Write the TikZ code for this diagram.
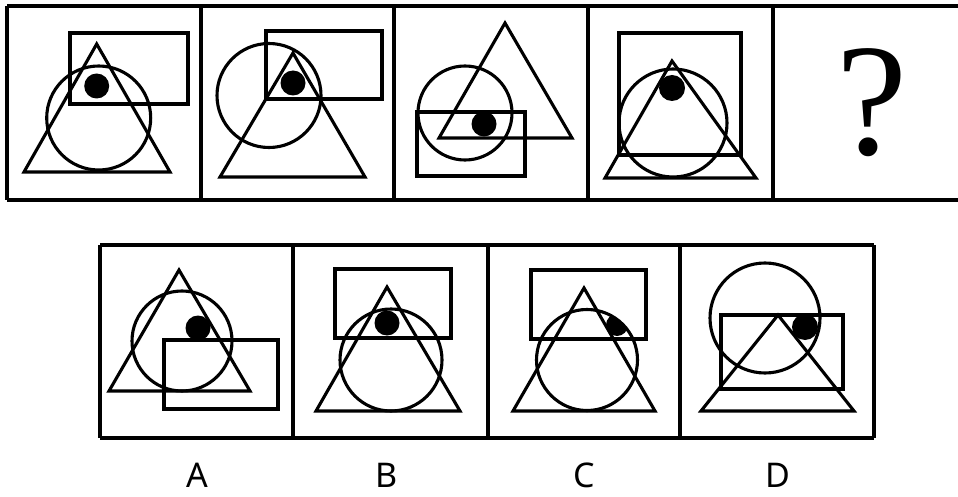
\documentclass[tikz,border=0pt]{standalone}
\usepackage{fontspec}
\newfontfamily\labfont{Noto Sans}
\newfontfamily\qfont{Liberation Serif}
\begin{document}
\begin{tikzpicture}[x=1pt,y=-1pt,
  shp/.style={line width=3.1pt, line join=miter},
  frm/.style={line width=3.2pt},
  dotfill/.style={fill=black},
  lab/.style={font=\labfont\fontsize{34}{38}\selectfont, anchor=center, inner sep=0pt}]
\useasboundingbox (0,0) rectangle (958,497);
% ---- top row frame
\draw[frm] (7,6) -- (958,6);
\draw[frm] (7,200) -- (958,200);
\foreach \x in {7,201,394,588,773} \draw[frm] (\x,6) -- (\x,200);
% panel 1
\fill[dotfill] (96.7,86) circle (12.5);
\draw[shp] (70,33) rectangle (188,104);
\draw[shp] (96.7,44) -- (24,172) -- (170,172) -- cycle;
\draw[shp] (98.7,118) circle (52);
% panel 2
\fill[dotfill] (293,83) circle (12.5);
\draw[shp] (266,31) rectangle (382,99);
\draw[shp] (269,95.5) circle (52);
\draw[shp] (293,53) -- (220,177) -- (365,177) -- cycle;
% panel 3
\fill[dotfill] (484,124) circle (12.5);
\draw[shp] (417,112) rectangle (525,176);
\draw[shp] (465,113) circle (47);
\draw[shp] (505,23) -- (439,138) -- (572,138) -- cycle;
% panel 4
\fill[dotfill] (672,88) circle (13);
\draw[shp] (619,33) rectangle (741,155);
\draw[shp] (673,123) circle (54);
\draw[shp] (672,61) -- (605,178) -- (756,178) -- cycle;
% panel 5
\node[font=\qfont\fontsize{160}{160}\selectfont, anchor=base, inner sep=0pt] (q) at (872,155) {?};
% ---- bottom row frame
\draw[frm] (100,245) -- (874,245);
\draw[frm] (100,438) -- (874,438);
\foreach \x in {100,293,488,680,874} \draw[frm] (\x,245) -- (\x,438);
% A
\begin{scope}
  \clip (150,300) rectangle (240,340);
  \fill[dotfill] (198,328) circle (12.5);
\end{scope}
\draw[shp] (179,270) -- (109,391) -- (250,391) -- cycle;
\draw[shp] (182,341) circle (50);
\draw[shp] (164,340) rectangle (278,409);
% B
\fill[dotfill] (387,323) circle (12.5);
\draw[shp] (335,269) rectangle (451,338);
\draw[shp] (387,287) -- (316,411) -- (460,411) -- cycle;
\draw[shp] (391,360) circle (51);
% C
\begin{scope}
  \clip (587,360) circle (50.5);
  \fill[dotfill] (617,325) circle (11);
\end{scope}
\draw[shp] (531,270) rectangle (646,339);
\draw[shp] (584,288) -- (513,411) -- (655,411) -- cycle;
\draw[shp] (587,360) circle (50.5);
% D
\begin{scope}
  \clip (765,318) circle (55);
  \fill[dotfill] (805,327) circle (13);
\end{scope}
\draw[shp] (765,318) circle (55);
\draw[shp] (721,315) rectangle (843,389);
\draw[shp] (778,315) -- (701,411) -- (854,411) -- cycle;
% labels
\node[lab] (la) at (197,475) {A};
\node[lab] (lb) at (387,475) {B};
\node[lab] (lc) at (584,475) {C};
\node[lab] (ld) at (778,475) {D};
\end{tikzpicture}
\end{document}
